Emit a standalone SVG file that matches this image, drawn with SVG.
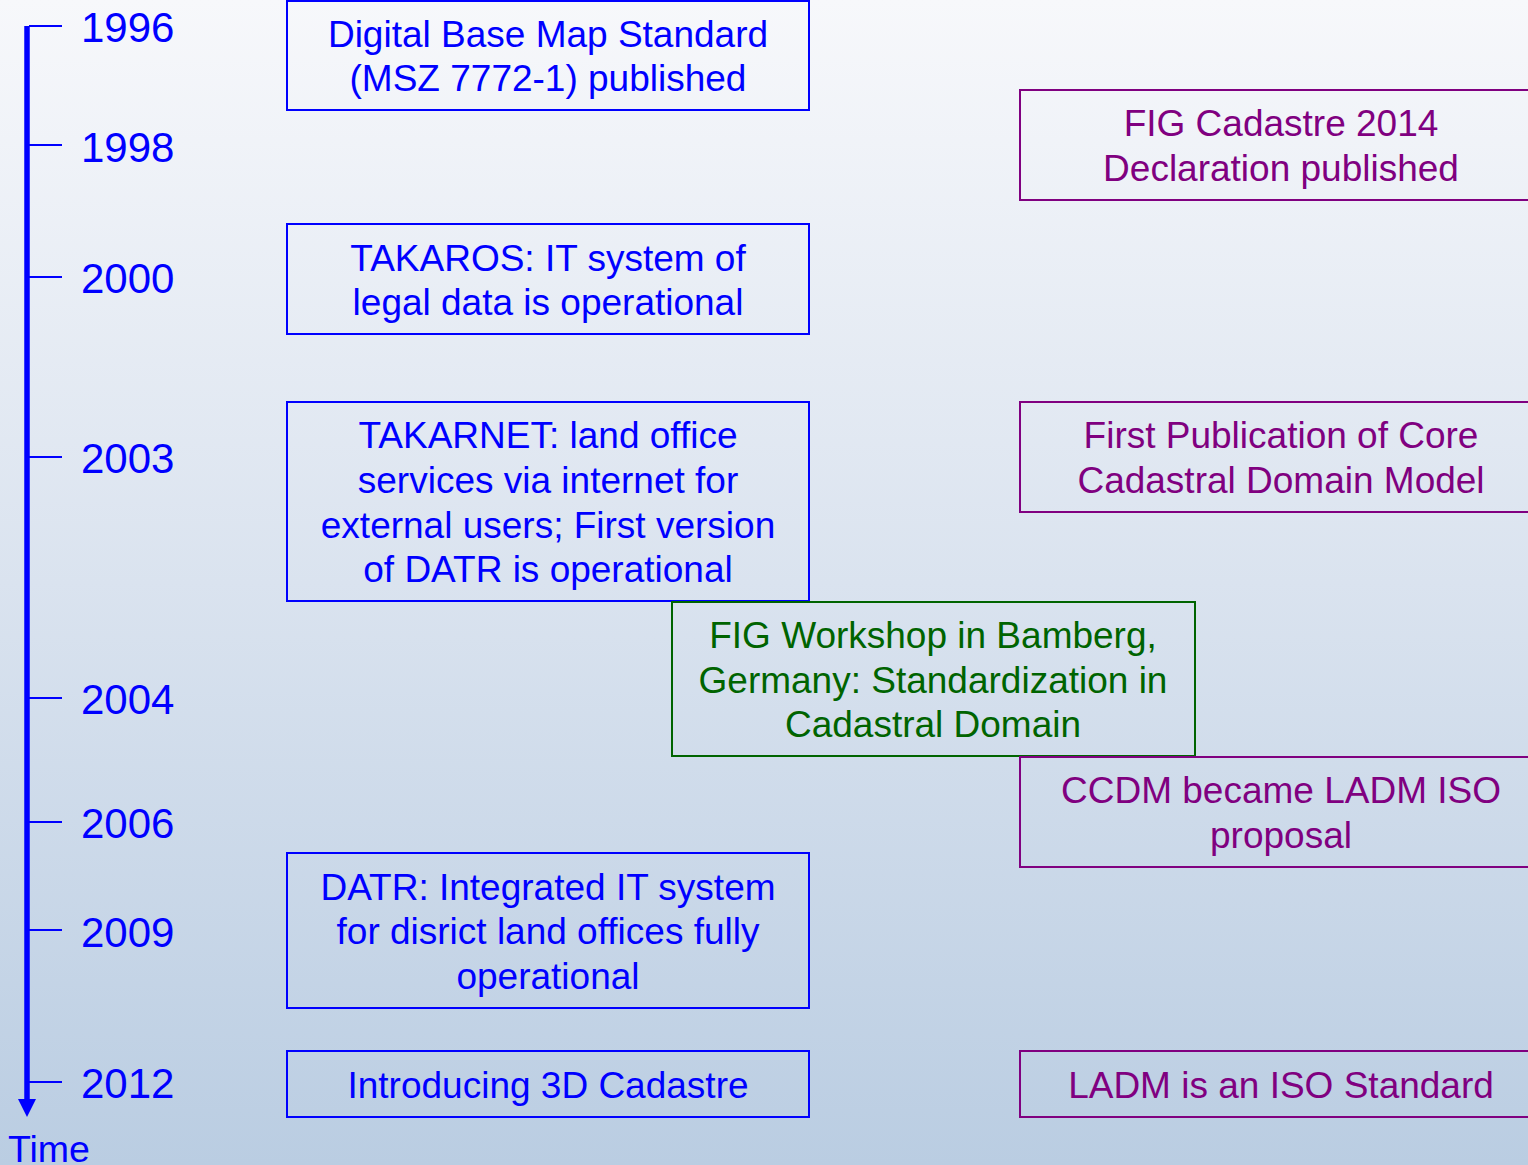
<svg xmlns="http://www.w3.org/2000/svg" width="1528" height="1165" viewBox="0 0 1528 1165">
<defs>
<linearGradient id="bg" x1="0" y1="0" x2="0" y2="1">
<stop offset="0" stop-color="#f7f8fb"/>
<stop offset="0.5" stop-color="#dae3ef"/>
<stop offset="1" stop-color="#bacde2"/>
</linearGradient>
</defs>
<style>
text{font-family:"Liberation Sans",Arial,sans-serif;}
.yr{font-size:42px;fill:#0000ff;}
.t{font-size:37px;text-anchor:middle;}
.b{fill:#0000ff;}
.p{fill:#800080;}
.g{fill:#006400;}
.bb{fill:none;stroke:#0000ff;stroke-width:2;}
.pb{fill:none;stroke:#800080;stroke-width:2;}
.gb{fill:none;stroke:#006400;stroke-width:2;}
.tick{stroke:#0000ff;stroke-width:2;}
</style>
<rect x="0" y="0" width="1528" height="1165" fill="url(#bg)"/>

<g id="axis">
<line x1="27" y1="26" x2="27" y2="1100" stroke="#0000ff" stroke-width="5.5"/>
<path d="M18,1099 L36,1099 L27,1117 Z" fill="#0000ff"/>
<g class="tick">
<line x1="29" y1="26" x2="62" y2="26"/>
<line x1="29" y1="145" x2="62" y2="145"/>
<line x1="29" y1="277" x2="62" y2="277"/>
<line x1="29" y1="457" x2="62" y2="457"/>
<line x1="29" y1="698" x2="62" y2="698"/>
<line x1="29" y1="822" x2="62" y2="822"/>
<line x1="29" y1="930" x2="62" y2="930"/>
<line x1="29" y1="1082" x2="62" y2="1082"/>
</g>
<text class="yr" x="81" y="42">1996</text>
<text class="yr" x="81" y="162">1998</text>
<text class="yr" x="81" y="293">2000</text>
<text class="yr" x="81" y="473">2003</text>
<text class="yr" x="81" y="714">2004</text>
<text class="yr" x="81" y="838">2006</text>
<text class="yr" x="81" y="947">2009</text>
<text class="yr" x="81" y="1098">2012</text>
<text x="8" y="1162" style="font-size:37.5px;fill:#0000ff">Time</text>
</g>

<g id="connectors"></g>

<g id="n1996">
<rect class="bb" x="287" y="1" width="522" height="109"/>
<text class="t b" x="548" y="47">Digital Base Map Standard</text>
<text class="t b" x="548" y="91">(MSZ 7772-1) published</text>
</g>
<g id="n2000">
<rect class="bb" x="287" y="224" width="522" height="110"/>
<text class="t b" x="548" y="271">TAKAROS: IT system of</text>
<text class="t b" x="548" y="315">legal data is operational</text>
</g>
<g id="n2003">
<rect class="bb" x="287" y="402" width="522" height="199"/>
<text class="t b" x="548" y="448">TAKARNET: land office</text>
<text class="t b" x="548" y="493">services via internet for</text>
<text class="t b" x="548" y="538">external users; First version</text>
<text class="t b" x="548" y="582">of DATR is operational</text>
</g>
<g id="n2009">
<rect class="bb" x="287" y="853" width="522" height="155"/>
<text class="t b" x="548" y="900">DATR: Integrated IT system</text>
<text class="t b" x="548" y="944">for disrict land offices fully</text>
<text class="t b" x="548" y="989">operational</text>
</g>
<g id="n2012">
<rect class="bb" x="287" y="1051" width="522" height="66"/>
<text class="t b" x="548" y="1098">Introducing 3D Cadastre</text>
</g>

<g id="fig1998">
<rect class="pb" x="1020" y="90" width="522" height="110"/>
<text class="t p" x="1281" y="136">FIG Cadastre 2014</text>
<text class="t p" x="1281" y="181">Declaration published</text>
</g>
<g id="ccdm2003">
<rect class="pb" x="1020" y="402" width="522" height="110"/>
<text class="t p" x="1281" y="448">First Publication of Core</text>
<text class="t p" x="1281" y="493">Cadastral Domain Model</text>
</g>
<g id="bamberg2004">
<rect class="gb" x="672" y="602" width="523" height="154"/>
<text class="t g" x="933" y="648">FIG Workshop in Bamberg,</text>
<text class="t g" x="933" y="693">Germany: Standardization in</text>
<text class="t g" x="933" y="737">Cadastral Domain</text>
</g>
<g id="ladm2006">
<rect class="pb" x="1020" y="757" width="522" height="110"/>
<text class="t p" x="1281" y="803">CCDM became LADM ISO</text>
<text class="t p" x="1281" y="848">proposal</text>
</g>
<g id="ladm2012">
<rect class="pb" x="1020" y="1051" width="522" height="66"/>
<text class="t p" x="1281" y="1098">LADM is an ISO Standard</text>
</g>
</svg>
